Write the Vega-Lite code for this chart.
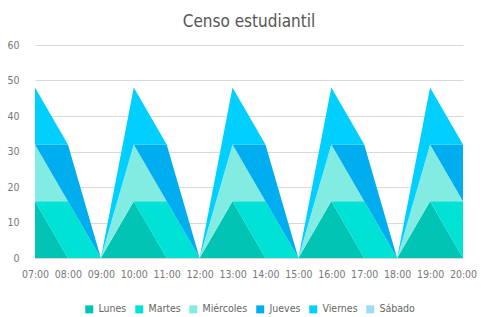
{
  "$schema": "https://vega.github.io/schema/vega-lite/v6.json",
  "width": 428,
  "height": 213,
  "autosize": {"type": "none"},
  "padding": {"left": 35, "top": 45, "right": 18, "bottom": 59},
  "background": "white",
  "title": {"text": "Censo estudiantil", "font": "DejaVu Sans Condensed", "fontSize": 17, "fontWeight": "normal", "color": "#555555", "offset": 9, "anchor": "middle"},
  "config": {
    "view": {"stroke": null},
    "font": "DejaVu Sans Condensed",
    "axis": {"labelFont": "DejaVu Sans Condensed", "labelFontSize": 10.5, "labelColor": "#777777"},
    "legend": {"labelFont": "DejaVu Sans Condensed", "labelFontSize": 10.5, "labelColor": "#666666", "layout": {"bottom": {"anchor": "middle"}}}
  },
  "data": {
    "values": [
      {"hora": "07:00", "dia": "Lunes", "o": 1, "valor": 16},
      {"hora": "08:00", "dia": "Lunes", "o": 1, "valor": 0},
      {"hora": "09:00", "dia": "Lunes", "o": 1, "valor": 0},
      {"hora": "10:00", "dia": "Lunes", "o": 1, "valor": 16},
      {"hora": "11:00", "dia": "Lunes", "o": 1, "valor": 0},
      {"hora": "12:00", "dia": "Lunes", "o": 1, "valor": 0},
      {"hora": "13:00", "dia": "Lunes", "o": 1, "valor": 16},
      {"hora": "14:00", "dia": "Lunes", "o": 1, "valor": 0},
      {"hora": "15:00", "dia": "Lunes", "o": 1, "valor": 0},
      {"hora": "16:00", "dia": "Lunes", "o": 1, "valor": 16},
      {"hora": "17:00", "dia": "Lunes", "o": 1, "valor": 0},
      {"hora": "18:00", "dia": "Lunes", "o": 1, "valor": 0},
      {"hora": "19:00", "dia": "Lunes", "o": 1, "valor": 16},
      {"hora": "20:00", "dia": "Lunes", "o": 1, "valor": 0},
      {"hora": "07:00", "dia": "Martes", "o": 2, "valor": 0},
      {"hora": "08:00", "dia": "Martes", "o": 2, "valor": 16},
      {"hora": "09:00", "dia": "Martes", "o": 2, "valor": 0},
      {"hora": "10:00", "dia": "Martes", "o": 2, "valor": 0},
      {"hora": "11:00", "dia": "Martes", "o": 2, "valor": 16},
      {"hora": "12:00", "dia": "Martes", "o": 2, "valor": 0},
      {"hora": "13:00", "dia": "Martes", "o": 2, "valor": 0},
      {"hora": "14:00", "dia": "Martes", "o": 2, "valor": 16},
      {"hora": "15:00", "dia": "Martes", "o": 2, "valor": 0},
      {"hora": "16:00", "dia": "Martes", "o": 2, "valor": 0},
      {"hora": "17:00", "dia": "Martes", "o": 2, "valor": 16},
      {"hora": "18:00", "dia": "Martes", "o": 2, "valor": 0},
      {"hora": "19:00", "dia": "Martes", "o": 2, "valor": 0},
      {"hora": "20:00", "dia": "Martes", "o": 2, "valor": 16},
      {"hora": "07:00", "dia": "Miércoles", "o": 3, "valor": 16},
      {"hora": "08:00", "dia": "Miércoles", "o": 3, "valor": 0},
      {"hora": "09:00", "dia": "Miércoles", "o": 3, "valor": 0},
      {"hora": "10:00", "dia": "Miércoles", "o": 3, "valor": 16},
      {"hora": "11:00", "dia": "Miércoles", "o": 3, "valor": 0},
      {"hora": "12:00", "dia": "Miércoles", "o": 3, "valor": 0},
      {"hora": "13:00", "dia": "Miércoles", "o": 3, "valor": 16},
      {"hora": "14:00", "dia": "Miércoles", "o": 3, "valor": 0},
      {"hora": "15:00", "dia": "Miércoles", "o": 3, "valor": 0},
      {"hora": "16:00", "dia": "Miércoles", "o": 3, "valor": 16},
      {"hora": "17:00", "dia": "Miércoles", "o": 3, "valor": 0},
      {"hora": "18:00", "dia": "Miércoles", "o": 3, "valor": 0},
      {"hora": "19:00", "dia": "Miércoles", "o": 3, "valor": 16},
      {"hora": "20:00", "dia": "Miércoles", "o": 3, "valor": 0},
      {"hora": "07:00", "dia": "Jueves", "o": 4, "valor": 0},
      {"hora": "08:00", "dia": "Jueves", "o": 4, "valor": 16},
      {"hora": "09:00", "dia": "Jueves", "o": 4, "valor": 0},
      {"hora": "10:00", "dia": "Jueves", "o": 4, "valor": 0},
      {"hora": "11:00", "dia": "Jueves", "o": 4, "valor": 16},
      {"hora": "12:00", "dia": "Jueves", "o": 4, "valor": 0},
      {"hora": "13:00", "dia": "Jueves", "o": 4, "valor": 0},
      {"hora": "14:00", "dia": "Jueves", "o": 4, "valor": 16},
      {"hora": "15:00", "dia": "Jueves", "o": 4, "valor": 0},
      {"hora": "16:00", "dia": "Jueves", "o": 4, "valor": 0},
      {"hora": "17:00", "dia": "Jueves", "o": 4, "valor": 16},
      {"hora": "18:00", "dia": "Jueves", "o": 4, "valor": 0},
      {"hora": "19:00", "dia": "Jueves", "o": 4, "valor": 0},
      {"hora": "20:00", "dia": "Jueves", "o": 4, "valor": 16},
      {"hora": "07:00", "dia": "Viernes", "o": 5, "valor": 16},
      {"hora": "08:00", "dia": "Viernes", "o": 5, "valor": 0},
      {"hora": "09:00", "dia": "Viernes", "o": 5, "valor": 0},
      {"hora": "10:00", "dia": "Viernes", "o": 5, "valor": 16},
      {"hora": "11:00", "dia": "Viernes", "o": 5, "valor": 0},
      {"hora": "12:00", "dia": "Viernes", "o": 5, "valor": 0},
      {"hora": "13:00", "dia": "Viernes", "o": 5, "valor": 16},
      {"hora": "14:00", "dia": "Viernes", "o": 5, "valor": 0},
      {"hora": "15:00", "dia": "Viernes", "o": 5, "valor": 0},
      {"hora": "16:00", "dia": "Viernes", "o": 5, "valor": 16},
      {"hora": "17:00", "dia": "Viernes", "o": 5, "valor": 0},
      {"hora": "18:00", "dia": "Viernes", "o": 5, "valor": 0},
      {"hora": "19:00", "dia": "Viernes", "o": 5, "valor": 16},
      {"hora": "20:00", "dia": "Viernes", "o": 5, "valor": 0},
      {"hora": "07:00", "dia": "Sábado", "o": 6, "valor": 0},
      {"hora": "08:00", "dia": "Sábado", "o": 6, "valor": 0},
      {"hora": "09:00", "dia": "Sábado", "o": 6, "valor": 0},
      {"hora": "10:00", "dia": "Sábado", "o": 6, "valor": 0},
      {"hora": "11:00", "dia": "Sábado", "o": 6, "valor": 0},
      {"hora": "12:00", "dia": "Sábado", "o": 6, "valor": 0},
      {"hora": "13:00", "dia": "Sábado", "o": 6, "valor": 0},
      {"hora": "14:00", "dia": "Sábado", "o": 6, "valor": 0},
      {"hora": "15:00", "dia": "Sábado", "o": 6, "valor": 0},
      {"hora": "16:00", "dia": "Sábado", "o": 6, "valor": 0},
      {"hora": "17:00", "dia": "Sábado", "o": 6, "valor": 0},
      {"hora": "18:00", "dia": "Sábado", "o": 6, "valor": 0},
      {"hora": "19:00", "dia": "Sábado", "o": 6, "valor": 0},
      {"hora": "20:00", "dia": "Sábado", "o": 6, "valor": 0}
    ]
  },
  "mark": {"type": "area", "opacity": 1},
  "encoding": {
    "x": {
      "field": "hora", "type": "ordinal",
      "scale": {"type": "point", "padding": 0},
      "axis": {"title": null, "labelAngle": 0, "domainColor": "#d9d9d9", "ticks": false, "labelPadding": 11, "grid": false}
    },
    "y": {
      "field": "valor", "type": "quantitative", "stack": "zero",
      "scale": {"domain": [0, 60]},
      "axis": {"title": null, "values": [0, 10, 20, 30, 40, 50, 60], "domain": false, "ticks": false, "gridColor": "#d9d9d9", "labelPadding": 16}
    },
    "color": {
      "field": "dia", "type": "nominal",
      "scale": {
        "domain": ["Lunes", "Martes", "Miércoles", "Jueves", "Viernes", "Sábado"],
        "range": ["#01c4b5", "#00e2d6", "#82ece3", "#00aeef", "#00cfff", "#9cdcf7"]
      },
      "legend": {"title": null, "orient": "bottom", "direction": "horizontal", "symbolType": "square", "symbolSize": 64, "symbolStrokeWidth": 0, "columnPadding": 7, "labelOffset": 4, "offset": 24}
    },
    "order": {"field": "o", "type": "quantitative", "sort": "ascending"}
  }
}
